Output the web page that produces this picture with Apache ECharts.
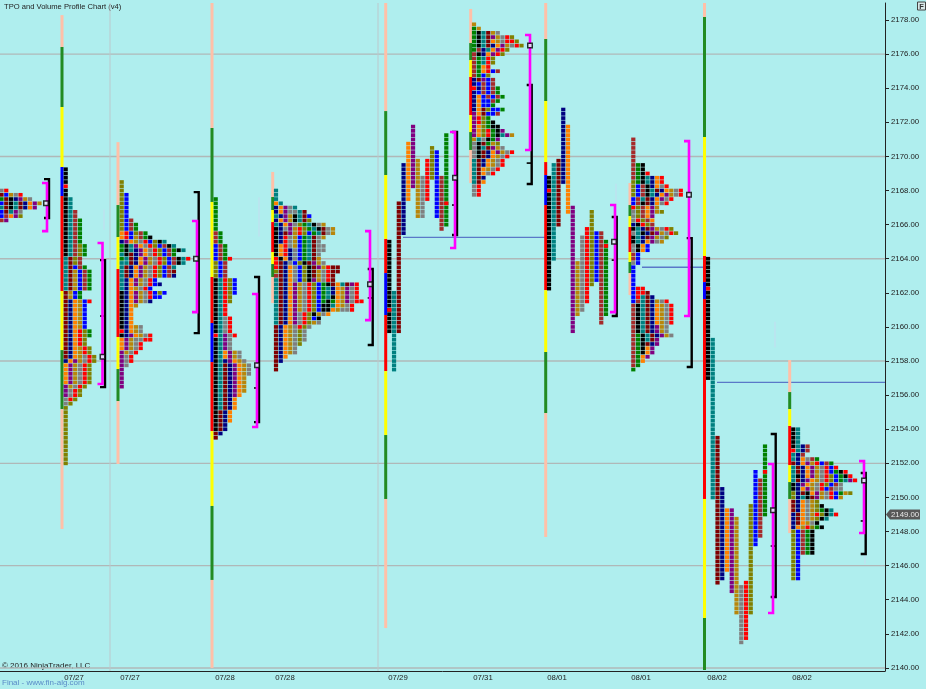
<!DOCTYPE html>
<html><head><meta charset="utf-8">
<style>html,body{margin:0;padding:0;background:#afeeee}#c{width:926px;height:689px}</style>
<script src="https://cdn.jsdelivr.net/npm/echarts@6/dist/echarts.min.js"></script>
</head><body><div id="c"></div>
<script>
// ---------- axis content ----------
const priceTicks = [2140,2142,2144,2146,2148,2150,2152,2154,2156,2158,2160,2162,2164,2166,2168,2170,2172,2174,2176,2178];
const gridPrices = [2140,2146,2152,2158,2164,2170,2176];
const gridSlots = [110,378];
const dateSlots = [74,130,225,285,398,483,557,641,717,802];
const dateLabels = ['07/27','07/27','07/28','07/28','07/29','07/31','08/01','08/01','08/02','08/02'];
const lastPrice = 2149;
const tick = 0.25, slotStep = 4.75;

// ---------- TPO period colours ----------
const tpoColors = {k:'#000000',t:'#008080',m:'#800000',n:'#000080',o:'#ff8000',p:'#800080',g:'#b8860b',a:'#808080',r:'#ff0000',l:'#808000',b:'#0000ff',w:'#a52a2a',e:'#008000'};

// ---------- stacked profiles: start slot, top price, rows of TPO letters ----------
const p0 = {slot:1.5, top:2168, rows:'ar mbgar emknpga bmktmnopg tmktmnop bmtpa bwopl wp'};
const p1 = {slot:65.7, top:2169.25, rows:'k k k k r k k kt kt kt ktw ktw ktwe ktwe ktwe ktwe ktwe ktwe ktwle ktwle ktwle tmlw tmlw tmbwe tmgbwe tmgbwe tmgbwe tmgbwe tmgbwe mgbe mgbe mnogbr mnogb mnogb mnogb mnogb mnogb mnogb mnorle mnorle mnorl mnorl mnogrl mnogrl mnogarl nopgarl opgarl opgarl opgarl opgarl opgarl pgarl parl parl arl al l l l l l l l l l l l l l l'};
const p2 = {slot:121.7, top:2168.5, rows:'l l l lb lb lb lb lb lb lbw lbwe lbwe orblwe orbgwek npogarblkt ektpoarlbwkt ektnpoarlbwekt tkmnpoarlbwe etmnopgarlbwktr ttmnopgarlbwkt tmnopgarlbwt tmnopgarlbwm tmnopgarlbwn tnopgarb tnopgarbn tnogarb knopgarblb knopgarbb knopgan knog kno kno kno kno knoga rnoga knpogar opgaarr opgar opgar pgar par par pa p p p p p'};
const p3 = {slot:215.7, top:2167.5, rows:'e e e e e e e e we we we bwe bwe bwe bwer lbw lbw lbw lbw ktrlb ktrlb ktrlb ktrlb ktrl ktrl ktr ktr ktr ktar ktar ktar ktar rtpar ktpa ktpa ktpa ktopga ktopga ktnpoga ktmnpoga ktmnpoga ktmnpoga ktmnpog ktmnpog ktmnpog ktmnpog ktmnpo ktmno ktmno ktmno kmno kmno kmno kmn kmn mn m'};
const p4 = {slot:276, top:2168, rows:'t t t ot nopat nopaatm tnpgktmb nopgktml tnopaletkag knapgrletkmag knmpgrlbetmag knragbetmag knragbetma koragbetmaa kornabetmaa kornabetma rkonabetmg rmnablkmpga rmnoablkmpgrmm lmnoablkmgarmm wmnoablkmgarm tmnoablkpgarm tmnopgarlbekmotmpr tmnopgarlbetnogpar tmnopgarlbetnogpar tmnopgarlbetkogpar tmnopgarlbekeogparr tmnopgarlbkktogar tmnopgarlbkkogaar tmnoparlkgao tmnoparlbk tmnoparlga mnogarla mnogala mnogala mnogala mnogal mnoga mnoga mno mn m m'};
const p6 = {slot:474, top:2177.75, rows:'g eg ektmga ektmpgarl ektmogarrl ektmnopgarl ewntoprl wknoprl wetrl wetrl weor weorbw webl nmpbw nbwbw rnwbwe nbwbwe nobwbwe nobbwe nobbe nomlbbe pombbw prle prlek polekk polrekp polrektpg gtakep akmegl aktmpga akmnopgar akmnogar tmnogar tmnogar tmogar tmoar tmn tmo ar ar ar'};
const p8 = {slot:633.3, top:2171, rows:'w w w w w w wek wek wekr wektnor lektnor lbwknoar lbwktmnogar lbwktnopgar bwtmnopar bwkmnoar rlwopg alwopgl alwop arlwo nkrlw ktnmpgarl atknmpgarl ktnmpgal ktnopag akob akob wb wb ab b b b b b brr brrm brtmn bwtmngar wktmnogar wktmnogar wktmnogar wktmnogar wktmnogar wktmnpga wktmnpga wektmnpga wektmp wekmnp wekop wekop weop weo we e'};
const p10 = {slot:793.3, top:2154, rows:'kt kt kt kt ktnw rtnw tnw tnoawe mnopgrbwe tmnopgarbr tmnopgarbekr tknopgarlbekr tmnpogarlbetpr knpogarlbwa knopgarbwaa lnmkopgarbegl lntkmpgarbg mnoagl mnoaglk mnoaglekt nmoagrlktr nmoaglkt nmogak nogrlek lbwek lbwek lbwek lbwek lbwek lbwek lb lb lb lb lb lb'};

// ---------- split profiles: start slot, then [column, letter, high, low] ----------
const p5Slot = 389.3;
const p5 = [[0,'k',2165,2159.75],[0,'r',2161,2161],[1,'t',2162,2157.5],[2,'m',2167.25,2159.75],[3,'n',2169.5,2165.5],[4,'o',2170.75,2167.5],[5,'p',2171.75,2168.25],[6,'g',2169.75,2166.5],[7,'a',2168.75,2166.5],[8,'r',2169.75,2167.5],[9,'l',2170.5,2168.75],[10,'b',2170.25,2166.5],[11,'w',2168.75,2165.75],[12,'e',2171.25,2166],[12,'r',2167.25,2167.25]];
const p7Slot = 549;
const p7 = [[0,'k',2168.75,2162.25],[0,'r',2168,2168],[1,'t',2169.5,2164],[2,'m',2169.75,2166],[3,'n',2172.75,2168.5],[4,'o',2171.75,2166.75],[5,'p',2167,2159.75],[6,'g',2163.75,2160.75],[7,'a',2165.25,2161],[8,'r',2165.75,2161.5],[9,'l',2166.75,2162.5],[10,'b',2165.5,2162.75],[11,'w',2165.5,2160.25],[12,'e',2165,2160.75],[12,'r',2164.75,2164.75]];
const p9Slot = 708;
const p9 = [[0,'k',2164,2157],[0,'r',2162.25,2162.25],[1,'t',2159.25,2150],[2,'m',2153.5,2145],[3,'n',2150.5,2145.25],[4,'o',2149.25,2145.75],[5,'p',2149.25,2144.5],[6,'g',2148.75,2143.25],[7,'a',2144.75,2141.5],[8,'r',2145,2141.75],[9,'l',2149.5,2143.25],[10,'b',2151.5,2147.25],[11,'w',2151,2147.75],[12,'e',2153,2149],[12,'r',2151.5,2151.5]];

// ---------- range bands: slot, price breaks, colours between them ----------
const bandNames = {P:'#ffc0a8',E:'#228b22',Y:'#ffff00',R:'#ff0000',B:'#0000ff'};
const bandA = {slot:62, breaks:[2178.29,2176.42,2172.9,2169.38,2167.68,2162.11,2158.64,2155.18,2148.15], seq:'PEYBRYEP'};
const bandB = {slot:118, breaks:[2170.84,2167.15,2165.27,2163.4,2159.41,2157.53,2155.65,2151.96], seq:'PEYRYEP'};
const bandC = {slot:212, breaks:[2179,2171.67,2167.33,2162.93,2160.23,2157.94,2153.89,2149.5,2145.16,2140], seq:'PEYRBRYEP'};
const bandD = {slot:272.7, breaks:[2169.09,2167.62,2166.86,2166.15,2164.39,2163.69,2162.93,2161.4], seq:'PEYRYEP'};
const bandE = {slot:385.7, breaks:[2179,2172.66,2168.91,2165.16,2163.16,2160.7,2157.41,2153.66,2149.91,2142.34], seq:'PEYRBRYEP'};
const bandF = {slot:470.7, breaks:[2178.65,2176.65,2175.65,2174.66,2172.43,2171.43,2170.38,2168.44], seq:'PEYRYEP'};
const bandG = {slot:545.7, breaks:[2179,2176.89,2173.25,2169.67,2168.91,2167.15,2162.16,2158.53,2154.95,2147.68], seq:'PEYRBRYEP'};
const bandH = {slot:630, breaks:[2168.44,2167.15,2166.5,2165.86,2164.39,2163.81,2163.16,2161.87], seq:'PEYRYEP'};
const bandI = {slot:704.5, breaks:[2179,2178.18,2171.14,2164.16,2162.63,2161.64,2149.91,2142.93,2139.88], seq:'PEYRBRYE'};
const bandJ = {slot:789.7, breaks:[2158.06,2156.18,2155.18,2154.19,2151.9,2150.9,2149.91,2147.91], seq:'PEYRYEP'};

// ---------- value-area brackets: slot, high, low, extra tick prices ----------
const blackBrackets = [[49,2168.67,2166.39,[]],[105,2163.92,2156.47,[2160.64]],[198.7,2167.91,2159.64,[]],[259,2162.93,2154.42,[2156.42]],[372.7,2163.4,2158.94,[2161.7]],[457,2171.43,2165.39,[2167.15]],[531.7,2174.19,2168.38,[2169.61]],[616.7,2166.45,2160.64,[2163.92]],[691.7,2165.21,2157.65,[]],[775.7,2153.72,2144.16,[2147.15]],[865.7,2151.43,2146.68,[2148.62]]];
const magentaBrackets = [[47,2168.44,2165.62],[102.5,2164.92,2156.65],[197,2166.21,2160.87],[257,2161.93,2154.13],[370,2165.62,2160.4],[455,2171.43,2164.63],[530,2177.12,2170.38],[615,2167.15,2160.87],[689,2170.9,2160.64],[773,2151.96,2143.22],[864,2152.13,2147.91]];
const pocMarks = [[46,2167.25],[102.5,2158.25],[196,2164],[257,2157.75],[370,2162.5],[455,2168.75],[530,2176.5],[614,2165],[689,2167.75],[773,2149.25],[864,2151]];
const nakedPocs = [[403,545,2165.25],[642,705,2163.5],[717,885,2156.75]];
const faintMarks = [[104,2166.9,2165.7],[259,2167.6,2165.3],[616,2168.4,2167.2],[775,2160.3,2158.8],[865,2146.6,2146.1]];

// ---------- build ----------
const stacked = [p0,p1,p2,p3,p4,p6,p8,p10];
const cells = [];
stacked.forEach(pf => {
  pf.rows.split(' ').forEach((row,r) => {
    [...row].forEach((ch,c) => cells.push([pf.slot + c*slotStep, pf.top - r*tick, ch]));
  });
});
[[p5,p5Slot],[p7,p7Slot],[p9,p9Slot]].forEach(([list,slot]) => {
  list.forEach(([col,ch,hi,lo]) => {
    for (let p = hi; p >= lo; p -= tick) cells.push([slot + col*slotStep, p, ch]);
  });
});
const bands = [];
[bandA,bandB,bandC,bandD,bandE,bandF,bandG,bandH,bandI,bandJ].forEach(b => {
  [...b.seq].forEach((ch,i) => bands.push([b.slot, b.breaks[i], b.breaks[i+1], ch]));
});

function bracketItem(color, width){
  return (params, api) => {
    const x = api.value(0);
    const top = api.coord([x, api.value(1)]), bot = api.coord([x, api.value(2)]);
    const xr = top[0], xl = xr - 5;
    const kids = [{type:'polyline', shape:{points:[[xl,top[1]],[xr,top[1]],[xr,bot[1]],[xl,bot[1]]]}, style:{fill:'none',stroke:color,lineWidth:width}}];
    return {type:'group', children:kids};
  };
}

const chart = echarts.init(document.getElementById('c'), null, {renderer:'canvas'});
chart.setOption({
  animation:false,
  backgroundColor:'#afeeee',
  grid:{left:0, right:41, top:3, bottom:18, containLabel:false},
  xAxis:{type:'value', min:0, max:885, splitLine:{show:false},
    axisLine:{show:true, onZero:false, lineStyle:{color:'#222',width:1}},
    axisTick:{show:false},
    axisLabel:{customValues:dateSlots, color:'#222', fontSize:7.8, fontFamily:'Liberation Sans', margin:3, hideOverlap:false,
      formatter:v => dateLabels[dateSlots.indexOf(v)]}},
  yAxis:{type:'value', position:'right', min:2139.82, max:2179, splitLine:{show:false},
    axisLine:{show:true, onZero:false, lineStyle:{color:'#222',width:1}},
    axisTick:{show:true, length:4, customValues:priceTicks, lineStyle:{color:'#222'}},
    axisLabel:{customValues:priceTicks, color:'#222', fontSize:7.8, fontFamily:'Liberation Sans', margin:6, hideOverlap:false,
      formatter:v => v.toFixed(2)}},
  graphic:[
    {type:'text', left:4, top:3, style:{text:'TPO and Volume Profile Chart (v4)', fill:'#222', font:'7.6px "Liberation Sans"'}},
    {type:'text', left:2, top:662, style:{text:'\u00a9 2016 NinjaTrader, LLC', fill:'#222', font:'8px "Liberation Sans"'}},
    {type:'text', left:2, top:679, style:{text:'Final - www.fin-alg.com', fill:'#5a8cc8', font:'8px "Liberation Sans"'}},
    {type:'rect', left:917, top:1.5, shape:{width:8,height:8}, style:{fill:'#d8e8e8',stroke:'#444',lineWidth:1}},
    {type:'text', left:919.3, top:2.5, style:{text:'F', fill:'#333', font:'bold 7.5px "Liberation Sans"'}}
  ],
  series:[
    {type:'custom', name:'grid', silent:true, z:1, data:gridPrices.map(p=>[p]),
      renderItem:(params,api)=>{const a=api.coord([0,api.value(0)]),b=api.coord([885,api.value(0)]);
        return {type:'line',shape:{x1:a[0],y1:a[1],x2:b[0],y2:b[1]},style:{stroke:'#b0b8b8',lineWidth:1.4}};}},
    {type:'custom', name:'vgrid', silent:true, z:1, data:gridSlots.map(s=>[s]),
      renderItem:(params,api)=>{const a=api.coord([api.value(0),2179]),b=api.coord([api.value(0),2139.82]);
        return {type:'line',shape:{x1:a[0],y1:a[1],x2:b[0],y2:b[1]},style:{stroke:'#bcc8cc',lineWidth:1}};}},
    {type:'custom', name:'faint', silent:true, z:1, data:faintMarks,
      renderItem:(params,api)=>{const a=api.coord([api.value(0),api.value(1)]),b=api.coord([api.value(0),api.value(2)]);
        return {type:'line',shape:{x1:a[0],y1:a[1],x2:b[0],y2:b[1]},style:{stroke:'#c4dcf0',lineWidth:1}};}},
    {type:'custom', name:'naked', silent:true, z:2, data:nakedPocs,
      renderItem:(params,api)=>{const a=api.coord([api.value(0),api.value(2)]),b=api.coord([api.value(1),api.value(2)]);
        return {type:'line',shape:{x1:a[0],y1:a[1],x2:b[0],y2:b[1]},style:{stroke:'#5a78c8',lineWidth:1.3}};}},
    {type:'custom', name:'bands', silent:true, z:3, data:bands.map(b=>[b[0],b[1],b[2],b[3]]),
      dimensions:['slot','hi','lo',{name:'c',type:'ordinal'}],
      renderItem:(params,api)=>{const b=bands[params.dataIndex];const a=api.coord([b[0],b[1]]),c=api.coord([b[0],b[2]]);
        return {type:'rect',shape:{x:a[0]-1.5,y:a[1],width:3,height:c[1]-a[1]},style:{fill:bandNames[b[3]]}};}},
    {type:'scatter', name:'tpo', silent:true, z:4, symbol:'rect', symbolSize:[4.2,3.7], large:false, progressive:0,
      data:cells, itemStyle:{color:p=>tpoColors[p.data[2]], opacity:1}},
    {type:'custom', name:'vaBlack', silent:true, z:5, data:blackBrackets.map(b=>[b[0],b[1],b[2]]), renderItem:bracketItem('#000',2.4)},
    {type:'custom', name:'vaBlackTicks', silent:true, z:5, data:blackBrackets.flatMap(b=>b[3].map(p=>[b[0],p])),
      renderItem:(params,api)=>{const a=api.coord([api.value(0),api.value(1)]);
        return {type:'line',shape:{x1:a[0]-5,y1:a[1],x2:a[0],y2:a[1]},style:{stroke:'#000',lineWidth:1.6}};}},
    {type:'custom', name:'vaMagenta', silent:true, z:6, data:magentaBrackets, renderItem:bracketItem('#ff00ff',2.6)},
    {type:'scatter', name:'poc', silent:true, z:7, symbol:'rect', symbolSize:4.5, data:pocMarks,
      itemStyle:{color:'#e8ffff',borderColor:'#000',borderWidth:1.5}},
    {type:'custom', name:'last', silent:true, z:8, clip:false, data:[[885,lastPrice]],
      renderItem:(params,api)=>{const a=api.coord([api.value(0),api.value(1)]);
        return {type:'group',children:[
          {type:'polygon',shape:{points:[[a[0]+1,a[1]],[a[0]+5,a[1]-5],[a[0]+35,a[1]-5],[a[0]+35,a[1]+5],[a[0]+5,a[1]+5]]},style:{fill:'#585858'}},
          {type:'text',x:a[0]+6,y:a[1]-4,style:{text:api.value(1).toFixed(2),fill:'#e8e8e8',font:'7.8px "Liberation Sans"'}}
        ]};}}
  ]
});
</script></body></html>
